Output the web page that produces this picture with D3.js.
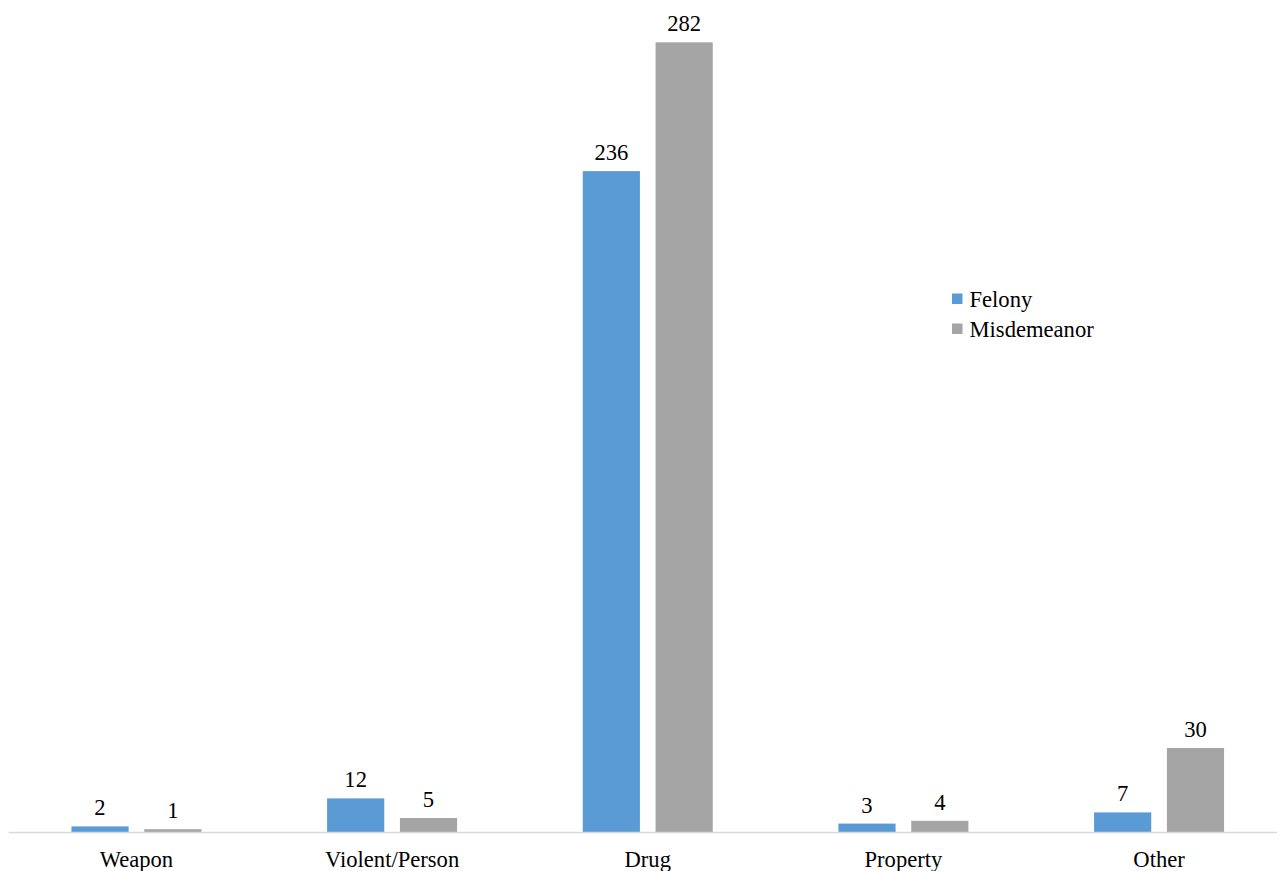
<!DOCTYPE html>
<html>
<head>
<meta charset="utf-8">
<script src="https://cdn.jsdelivr.net/npm/d3@7"></script>
<style>
  body { margin: 0; background: #fff; }
</style>
</head>
<body>
<div id="chart"></div>
<script>
var categories = ["Weapon", "Violent/Person", "Drug", "Property", "Other"];
var seriesNames = ["Felony", "Misdemeanor"];
var felony = [2, 12, 236, 3, 7];
var misdemeanor = [1, 5, 282, 4, 30];
var colors = ["#5B9BD5", "#A5A5A5"];

var width = 1277, height = 871;
var baseY = 832;
var serif = "'Liberation Serif', 'Times New Roman', Tinos, 'DejaVu Serif', serif";
var fontSize = 22.6;

var svg = d3.select("#chart").append("svg")
    .attr("width", width)
    .attr("height", height)
    .style("font-family", serif);

// band scale runs a bit past the right edge, like the cropped original
var x = d3.scaleBand().domain(categories).range([8.6, 1286.9]);
var inner = d3.scaleBand().domain(seriesNames)
    .range([x.bandwidth() / 2 - 65, x.bandwidth() / 2 + 65])
    .paddingInner(0.215);
var y = d3.scaleLinear().domain([0, 282]).range([baseY, 42.3]);

var data = categories.map(function (c, i) {
    return { cat: c, values: [felony[i], misdemeanor[i]] };
});

var groups = svg.selectAll(".group")
    .data(data)
    .enter().append("g")
    .attr("class", "group")
    .attr("transform", function (d) { return "translate(" + x(d.cat) + ",0)"; });

groups.selectAll("rect")
    .data(function (d) { return d.values.map(function (v, j) { return { s: seriesNames[j], v: v, j: j }; }); })
    .enter().append("rect")
    .attr("x", function (d) { return inner(d.s); })
    .attr("width", inner.bandwidth())
    .attr("y", function (d) { return y(d.v); })
    .attr("height", function (d) { return baseY - y(d.v); })
    .attr("fill", function (d) { return colors[d.j]; });

groups.selectAll(".val")
    .data(function (d) { return d.values.map(function (v, j) { return { s: seriesNames[j], v: v }; }); })
    .enter().append("text")
    .attr("class", "val")
    .attr("x", function (d) { return inner(d.s) + inner.bandwidth() / 2; })
    .attr("y", function (d) { return y(d.v) - 11; })
    .attr("text-anchor", "middle")
    .attr("font-family", serif)
    .attr("font-size", fontSize)
    .text(function (d) { return d.v; });

// category axis
var xAxis = d3.axisBottom(x).tickSize(0).tickPadding(0);
var axisG = svg.append("g")
    .attr("transform", "translate(0," + baseY + ")")
    .call(xAxis)
    .attr("font-family", serif)
    .attr("font-size", fontSize);
axisG.select(".domain").remove();
axisG.selectAll("text")
    .attr("y", 35)
    .attr("dy", null)
    .attr("fill", "#000");

svg.append("line")
    .attr("x1", x.range()[0]).attr("x2", width)
    .attr("y1", baseY + 0.5).attr("y2", baseY + 0.5)
    .attr("stroke", "#D9D9D9")
    .attr("stroke-width", 1.5);

// legend
var legend = svg.selectAll(".legend")
    .data(seriesNames)
    .enter().append("g")
    .attr("class", "legend")
    .attr("transform", function (d, i) { return "translate(952," + (293.5 + i * 30) + ")"; });

legend.append("rect")
    .attr("width", 10.5).attr("height", 10.5)
    .attr("fill", function (d, i) { return colors[i]; });

legend.append("text")
    .attr("x", 17.5)
    .attr("y", 13)
    .attr("font-family", serif)
    .attr("font-size", fontSize)
    .text(function (d) { return d; });
</script>
</body>
</html>
